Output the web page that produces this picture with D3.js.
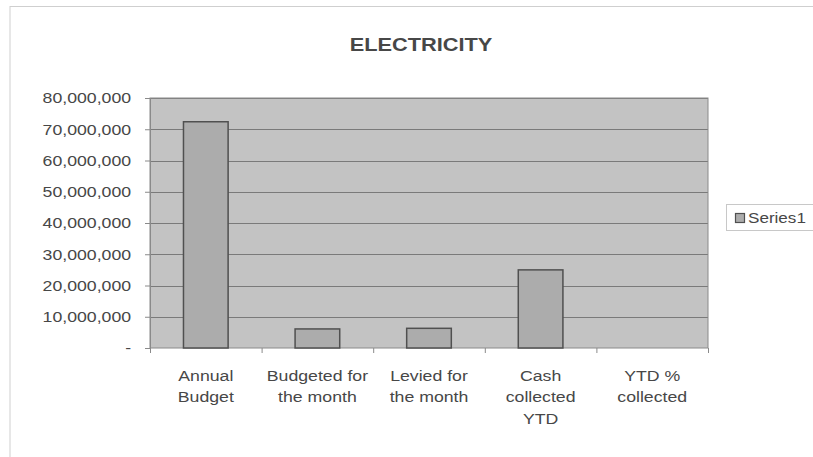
<!DOCTYPE html>
<html>
<head>
<meta charset="utf-8">
<script src="https://cdn.jsdelivr.net/npm/d3@7"></script>
<style>
  body { margin: 0; background: #fff; }
  text { font-family: Arial, "Liberation Sans", sans-serif; fill: #474747; }
</style>
</head>
<body>
<div class="canvas"></div>
<script>
// chart data
const categories = ['Annual\nBudget', 'Budgeted for\nthe month', 'Levied for\nthe month', 'Cash\ncollected\nYTD', 'YTD %\ncollected'];
const series1 = [72400000, 6100000, 6300000, 25000000, 0];
const yTicks = [0, 10000000, 20000000, 30000000, 40000000, 50000000, 60000000, 70000000, 80000000];
const seriesName = 'Series1';
const title = 'ELECTRICITY';

const width = 813;
const height = 457;
const stretch = 1.18; // the source picture is a little wider than tall

const svg = d3.select('.canvas')
  .append('svg')
  .attr('width', width)
  .attr('height', height);

// outer chart border
svg.append('rect')
  .attr('x', 10).attr('y', 6.5)
  .attr('width', 840).attr('height', 470)
  .attr('fill', '#fff')
  .attr('stroke', '#cfcfcf');

const margin = { top: 98, right: 105, bottom: 109, left: 150 };
const graphWidth = width - margin.left - margin.right;
const graphHeight = height - margin.top - margin.bottom;

const graph = svg.append('g')
  .attr('transform', `translate(${margin.left}, ${margin.top})`);

// scales
const y = d3.scaleLinear()
  .domain([0, d3.max(yTicks)])
  .range([graphHeight, 0]);

const xCat = d3.scaleBand()
  .domain(categories)
  .range([0, graphWidth]);

const x = d3.scaleBand()
  .domain(categories)
  .range([0, graphWidth])
  .paddingInner(0.6)
  .paddingOuter(0.3);

// plot area
graph.append('rect')
  .attr('width', graphWidth)
  .attr('height', graphHeight)
  .attr('fill', '#c3c3c3');

// gridlines
graph.selectAll('line.grid')
  .data(yTicks.filter(d => d > 0))
  .enter()
  .append('line')
  .attr('class', 'grid')
  .attr('x1', 0).attr('x2', graphWidth)
  .attr('y1', d => Math.round(y(d)) + 0.5)
  .attr('y2', d => Math.round(y(d)) + 0.5)
  .attr('stroke', '#7a7a7a');

graph.append('rect')
  .attr('width', graphWidth)
  .attr('height', graphHeight)
  .attr('fill', 'none')
  .attr('stroke', '#8a8a8a');

// bars
graph.selectAll('rect.bar')
  .data(series1)
  .enter()
  .append('rect')
  .attr('class', 'bar')
  .attr('x', (d, i) => x(categories[i]))
  .attr('y', d => y(d))
  .attr('width', x.bandwidth())
  .attr('height', d => graphHeight - y(d))
  .attr('fill', '#acacac')
  .attr('stroke', '#505050')
  .attr('stroke-width', 1.5)
  .style('display', d => d > 0 ? null : 'none');

// y axis
const yAxis = d3.axisLeft(y)
  .tickValues(yTicks)
  .tickSize(5)
  .tickPadding(11)
  .tickFormat(d => d === 0 ? '-' : d3.format(',')(d));

const yAxisGroup = graph.append('g').call(yAxis);
yAxisGroup.select('.domain').attr('stroke', '#8a8a8a');
yAxisGroup.selectAll('line').attr('stroke', '#8a8a8a');
yAxisGroup.selectAll('text')
  .attr('font-size', 15)
  .attr('fill', '#474747')
  .attr('transform', `scale(${stretch},1)`);

// x axis ticks at the category boundaries
const xAxisGroup = graph.append('g')
  .attr('transform', `translate(0, ${graphHeight})`);

xAxisGroup.selectAll('line')
  .data(categories.map(c => xCat(c)).concat([xCat.range()[1]]))
  .enter()
  .append('line')
  .attr('x1', d => d + 0.5).attr('x2', d => d + 0.5)
  .attr('y1', 0).attr('y2', 5)
  .attr('stroke', '#8a8a8a');

// category labels, several lines each
const labels = xAxisGroup.selectAll('g.label')
  .data(categories)
  .enter()
  .append('g')
  .attr('class', 'label')
  .attr('transform', d => `translate(${xCat(d) + xCat.bandwidth() / 2}, 33) scale(${stretch},1)`);

labels.selectAll('text')
  .data(d => d.split('\n'))
  .enter()
  .append('text')
  .attr('y', (d, i) => i * 21.5)
  .attr('text-anchor', 'middle')
  .attr('font-size', 15)
  .text(d => d);

// title
svg.append('g')
  .attr('transform', `translate(${margin.left + graphWidth / 2 - 8}, 51) scale(1.21,1)`)
  .append('text')
  .attr('text-anchor', 'middle')
  .attr('font-size', 18)
  .attr('font-weight', 'bold')
  .attr('fill', '#4a4a4a')
  .text(title);

// legend
const legend = svg.append('g')
  .attr('transform', 'translate(726, 204)');

legend.append('rect')
  .attr('x', 0.5).attr('y', 0.5)
  .attr('width', 100).attr('height', 26)
  .attr('fill', '#fff')
  .attr('stroke', '#c8c8c8');

legend.append('rect')
  .attr('x', 9.5).attr('y', 9.5)
  .attr('width', 9).attr('height', 9)
  .attr('fill', '#acacac')
  .attr('stroke', '#505050')
  .attr('stroke-width', 1.2);

legend.append('g')
  .attr('transform', `translate(22, 19) scale(1.22,1)`)
  .append('text')
  .attr('font-size', 14)
  .text(seriesName);
</script>
</body>
</html>
